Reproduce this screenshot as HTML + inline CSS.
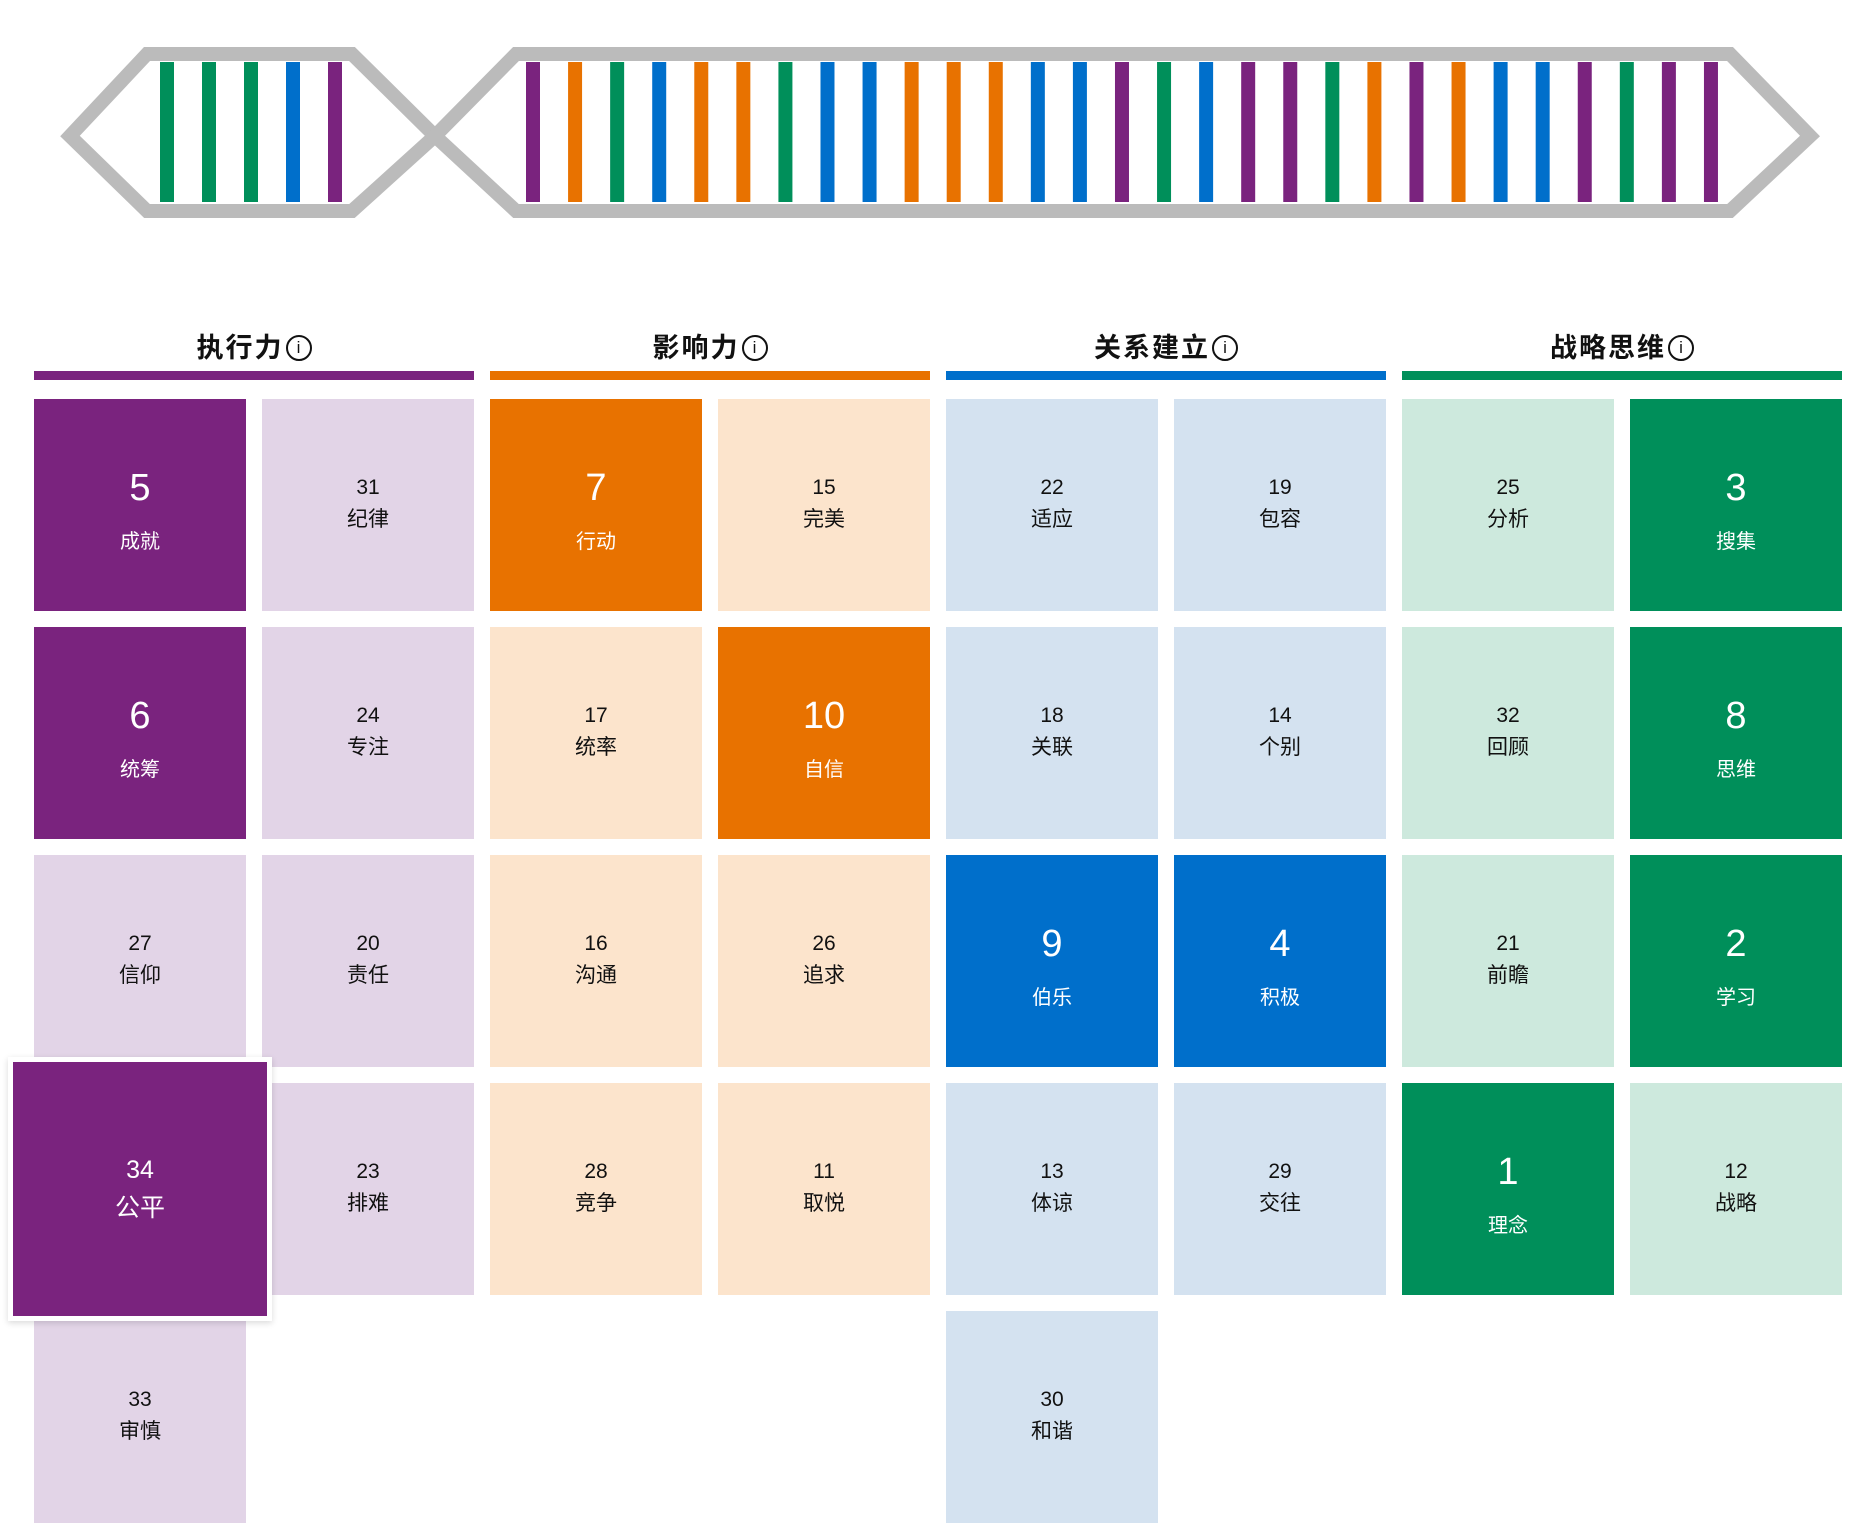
<!DOCTYPE html>
<html><head><meta charset="utf-8"><style>
body{margin:0;width:1872px;height:1534px;background:#fff;position:relative;overflow:hidden;font-family:"Liberation Sans","Noto Sans CJK SC",sans-serif;}
.t{position:absolute;width:212px;height:212px;text-align:center;color:#111;}
.t .n{position:absolute;left:0;right:0;font-size:21px;line-height:24px;top:77px;}
.t .l{position:absolute;left:0;right:0;font-size:21px;line-height:24px;top:109px;}
.t.d{color:#fff;}
.t.d .n{font-size:38px;line-height:44px;top:67px;}
.t.d .l{font-size:20px;top:131px;}
.h{position:absolute;width:440px;text-align:center;font-weight:bold;font-size:27px;top:330px;line-height:36px;color:#111;letter-spacing:2px;}
.h span{display:inline-block;width:22px;height:22px;border:2px solid #111;border-radius:50%;font-size:17px;line-height:22px;font-weight:normal;vertical-align:middle;letter-spacing:0;margin-left:2px;box-sizing:content-box;position:relative;top:-2px;}
.b{position:absolute;height:9px;width:440px;top:371px;}
</style></head><body>
<svg width="1872" height="260" style="position:absolute;left:0;top:0">
<g fill="none" stroke="#bbbbbb" stroke-width="14" stroke-linejoin="miter">
<polygon points="147,54 352,54 435,136 352,211 147,211 70,136"/>
<polygon points="435,136 516,54 1730,54 1810,136 1730,211 516,211"/>
</g>
<g id="bars"></g>
</svg>
<div class="h" style="left:34px">执行力<span>i</span></div>
<div class="h" style="left:490px">影响力<span>i</span></div>
<div class="h" style="left:946px">关系建立<span>i</span></div>
<div class="h" style="left:1402px">战略思维<span>i</span></div>
<div class="b" style="left:34px;background:#7a237e"></div>
<div class="b" style="left:490px;background:#e87200"></div>
<div class="b" style="left:946px;background:#006fcb"></div>
<div class="b" style="left:1402px;background:#008f5a"></div>
<div id="tiles"></div>
<div style="position:absolute;left:8px;top:1057px;width:264px;height:264px;background:#fff;box-shadow:0 2px 6px rgba(0,0,0,0.15)"></div>
<div class="t d" style="left:13px;top:1062px;width:254px;height:254px;background:#7a237e"><div class="n" style="font-size:25px;top:94px;line-height:28px">34</div><div class="l" style="font-size:25px;top:132px;line-height:28px">公平</div></div>
<script>
var C={p:'#7a237e',o:'#e87200',g:'#008f5a',b:'#006fcb'};
var L={p:'#e2d4e7',o:'#fce4cc',g:'#cde9dd',b:'#d4e2f0'};
var s='';
var left=['g','g','g','b','p'];
left.forEach(function(c,i){s+='<rect x="'+(160+42*i)+'" y="62" width="14" height="140" fill="'+C[c]+'"/>';});
var right='p o g b o o g b b o o o b b p g b p p g o p o b b p g p p'.split(' ');
right.forEach(function(c,i){s+='<rect x="'+(526+42.07*i)+'" y="62" width="14" height="140" fill="'+C[c]+'"/>';});
document.getElementById('bars').innerHTML=s;
var cols=[
['p',[[5,'成就',1],[6,'统筹',1],[27,'信仰',0],null,[33,'审慎',0]]],
['p',[[31,'纪律',0],[24,'专注',0],[20,'责任',0],[23,'排难',0]]],
['o',[[7,'行动',1],[17,'统率',0],[16,'沟通',0],[28,'竞争',0]]],
['o',[[15,'完美',0],[10,'自信',1],[26,'追求',0],[11,'取悦',0]]],
['b',[[22,'适应',0],[18,'关联',0],[9,'伯乐',1],[13,'体谅',0],[30,'和谐',0]]],
['b',[[19,'包容',0],[14,'个别',0],[4,'积极',1],[29,'交往',0]]],
['g',[[25,'分析',0],[32,'回顾',0],[21,'前瞻',0],[1,'理念',1]]],
['g',[[3,'搜集',1],[8,'思维',1],[2,'学习',1],[12,'战略',0]]]];
var h='';
cols.forEach(function(col,ci){col[1].forEach(function(t,ri){if(!t)return;
h+='<div class="t'+(t[2]?' d':'')+'" style="left:'+(34+228*ci)+'px;top:'+(399+228*ri)+'px;background:'+(t[2]?C[col[0]]:L[col[0]])+'"><div class="n">'+t[0]+'</div><div class="l">'+t[1]+'</div></div>';});});
document.getElementById('tiles').innerHTML=h;
</script>
</body></html>
